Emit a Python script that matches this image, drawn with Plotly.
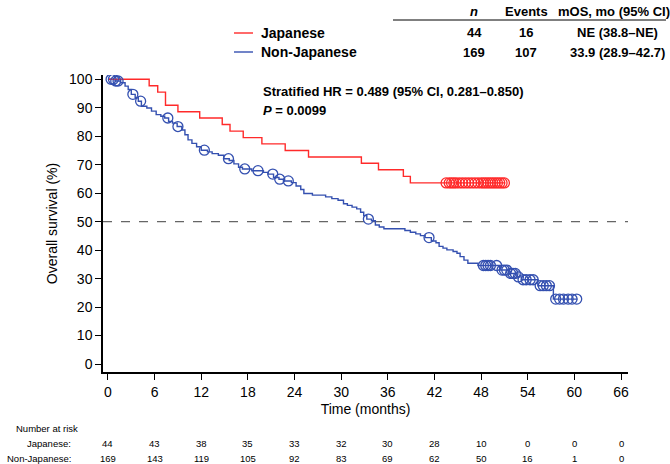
import numpy as np
import plotly.graph_objects as go

# ---------------- data ----------------
# Japanese KM curve: step points (time in months, survival %)
jp_t = [0, 5.3, 6.4, 7.4, 9.0, 11.8, 14.7, 15.7, 17.4, 19.8, 22.8, 25.8, 32.6, 34.8, 38.0, 38.9, 51.1]
jp_s = [100, 97.7, 95.5, 90.9, 88.6, 86.4, 84.1, 81.8, 79.5, 77.3, 75.0, 72.7, 70.5, 68.2, 65.9, 63.6, 63.6]
jp_cens = [43.5, 43.9, 44.2, 44.5, 44.8, 45.2, 45.6, 46.0, 46.4, 46.8, 47.2, 47.6, 48.0, 48.3,
           48.6, 48.9, 49.2, 49.5, 49.8, 50.1, 50.4, 50.7, 51.0]

# Non-Japanese KM curve: step points
nj_t = [0, 0.9, 1.6, 2.2, 2.6, 3.0, 3.5, 3.9, 4.3, 5.0, 5.6, 6.2, 6.8, 7.3, 7.8, 8.3, 8.9, 9.5, 9.9,
        10.3, 10.8, 11.4, 12.0, 12.8, 13.4, 14.2, 14.9, 15.6, 16.2, 16.8, 17.3, 18.5, 20.0, 20.6,
        21.3, 22.0, 22.6, 23.6, 24.2, 24.8, 25.2, 26.3, 28.0, 28.8, 29.6, 30.3, 30.8, 31.4, 32.0,
        32.5, 32.9, 33.3, 33.9, 34.4, 34.9, 35.5, 38.2, 38.9, 39.6, 40.2, 40.8, 41.6, 42.2, 42.6,
        43.1, 43.6, 44.4, 44.9, 45.3, 45.8, 46.3, 47.6, 50.4, 51.6, 52.6, 53.2, 55.3, 57.3, 60.4]
nj_s = [100, 99.4, 98.8, 97.6, 96.4, 94.7, 93.5, 92.3, 90.5, 89.9, 88.8, 87.6, 87.0, 86.4, 85.2,
        84.6, 83.4, 82.2, 80.5, 78.7, 77.5, 76.3, 75.1, 74.5, 73.9, 73.3, 72.1, 71.5, 70.3, 69.1,
        68.5, 67.9, 67.3, 66.7, 65.5, 64.9, 64.3, 63.7, 62.5, 61.3, 59.9, 59.3, 58.7, 58.1, 57.5,
        56.3, 55.7, 55.1, 54.5, 53.3, 52.1, 50.9, 50.3, 48.8, 48.1, 47.5, 46.9, 46.3, 45.7, 45.1,
        44.4, 43.2, 42.6, 41.3, 40.7, 40.1, 39.5, 38.9, 37.7, 36.5, 35.4, 34.6, 33.0, 31.8, 30.6,
        29.6, 27.5, 22.8, 22.8]
nj_cens = [0.4, 0.7, 1.0, 1.3, 3.2, 4.2, 7.7, 9.0, 12.4, 15.5, 17.6, 19.3, 21.2, 22.1, 23.2, 33.5,
           41.3, 48.3, 48.6, 48.9, 49.2, 50.0, 50.7, 51.0, 51.3, 51.8, 52.1, 52.4, 52.8, 53.4, 53.8,
           54.3, 54.7, 55.6, 56.0, 56.4, 56.8, 57.6, 58.1, 58.6, 59.2, 59.7, 60.3]

risk_times = [0, 6, 12, 18, 24, 30, 36, 42, 48, 54, 60, 66]
risk_jp = [44, 43, 38, 35, 33, 32, 30, 28, 10, 0, 0, 0]
risk_nj = [169, 143, 119, 105, 92, 83, 69, 62, 50, 16, 1, 0]

groups = ["Japanese", "Non-Japanese"]
n_vals = [44, 169]
events = [16, 107]
mos = ["NE (38.8–NE)", "33.9 (28.9–42.7)"]

RED = "#ff2a2a"
BLUE = "#3450b0"
FONT = "Arial, Liberation Sans, sans-serif"


def step_val(t_arr, s_arr, t):
    idx = np.searchsorted(np.array(t_arr), t, side="right") - 1
    return np.array(s_arr)[idx]


# ---------------- layout geometry (pixels) ----------------
W, H = 670, 464
L, R, T, B = 103, 42, 75, 92
PW, PH = W - L - R, H - T - B


def px(x):
    return (x - L) / PW


def py(y):
    return (H - B - y) / PH


fig = go.Figure()

fig.add_trace(go.Scatter(x=nj_t, y=nj_s, mode="lines", line=dict(color=BLUE, width=1.4, shape="hv"),
                         showlegend=False, hoverinfo="skip"))
fig.add_trace(go.Scatter(x=jp_t, y=jp_s, mode="lines", line=dict(color=RED, width=1.4, shape="hv"),
                         showlegend=False, hoverinfo="skip"))
fig.add_trace(go.Scatter(x=nj_cens, y=step_val(nj_t, nj_s, nj_cens), mode="markers",
                         marker=dict(symbol="circle-open", size=10, color=BLUE, line=dict(width=1.3)),
                         showlegend=False, hoverinfo="skip"))
fig.add_trace(go.Scatter(x=jp_cens, y=step_val(jp_t, jp_s, jp_cens), mode="markers",
                         marker=dict(symbol="circle-open", size=10, color=RED, line=dict(width=1.3)),
                         showlegend=False, hoverinfo="skip"))

# median reference line
fig.add_shape(type="line", xref="paper", yref="y", x0=0, x1=1, y0=50, y1=50,
              line=dict(color="#666666", width=1.2, dash="dash"), layer="below")

ann = []
# header of legend table
hdr_y = py(11)
ann.append(dict(x=px(474), y=hdr_y, text="<b><i>n</i></b>", showarrow=False, font=dict(size=13)))
ann.append(dict(x=px(526), y=hdr_y, text="<b>Events</b>", showarrow=False, font=dict(size=13)))
ann.append(dict(x=px(614), y=hdr_y, text="<b>mOS, mo (95% CI)</b>", showarrow=False, font=dict(size=13)))
fig.add_shape(type="line", xref="paper", yref="paper", x0=px(393), x1=px(666), y0=py(20), y1=py(20),
              line=dict(color="black", width=1))
row_y = [33, 52]
colors = [RED, BLUE]
for i in range(2):
    yy = py(row_y[i])
    fig.add_shape(type="line", xref="paper", yref="paper", x0=px(234), x1=px(253), y0=yy, y1=yy,
                  line=dict(color=colors[i], width=1.4))
    ann.append(dict(x=px(259), y=yy, xanchor="left", text=f"<b>{groups[i]}</b>", showarrow=False,
                    font=dict(size=14)))
    ann.append(dict(x=px(474), y=yy, text=f"<b>{n_vals[i]}</b>", showarrow=False, font=dict(size=13)))
    ann.append(dict(x=px(526), y=yy, text=f"<b>{events[i]}</b>", showarrow=False, font=dict(size=13)))
    ann.append(dict(x=px(617), y=yy, text=f"<b>{mos[i]}</b>", showarrow=False, font=dict(size=13)))

ann.append(dict(x=px(261), y=py(92), xanchor="left", showarrow=False, font=dict(size=13),
                text="<b>Stratified HR = 0.489 (95% CI, 0.281–0.850)</b>"))
ann.append(dict(x=px(261), y=py(110), xanchor="left", showarrow=False, font=dict(size=13),
                text="<b><i>P</i> = 0.0099</b>"))

# number at risk table
ann.append(dict(x=px(14), y=py(428), xanchor="left", showarrow=False, font=dict(size=9.5),
                text="Number at risk"))
ann.append(dict(x=px(73), y=py(443), xanchor="right", showarrow=False, font=dict(size=9.5),
                text="Japanese:"))
ann.append(dict(x=px(73), y=py(458), xanchor="right", showarrow=False, font=dict(size=9.5),
                text="Non-Japanese:"))
for t, a, b in zip(risk_times, risk_jp, risk_nj):
    ann.append(dict(x=t, xref="x", y=py(443), yref="paper", showarrow=False, font=dict(size=9.5),
                    text=str(a)))
    ann.append(dict(x=t, xref="x", y=py(458), yref="paper", showarrow=False, font=dict(size=9.5),
                    text=str(b)))

for a in ann:
    a.setdefault("xref", "paper")
    a.setdefault("yref", "paper")
    a.setdefault("xanchor", "center")
    a.setdefault("yanchor", "middle")

fig.update_layout(
    width=W, height=H,
    margin=dict(l=L, r=R, t=T, b=B),
    paper_bgcolor="white", plot_bgcolor="white",
    font=dict(family=FONT, color="black", size=14),
    annotations=ann,
    xaxis=dict(range=[-0.64, 66.9], tickmode="array", tickvals=risk_times,
               showline=True, linecolor="black", linewidth=1.5, ticks="outside", ticklen=6,
               tickwidth=1.3, tickcolor="black", showgrid=False, zeroline=False,
               tickfont=dict(size=14), title=dict(text="Time (months)", font=dict(size=14), standoff=6)),
    yaxis=dict(range=[-2.8, 101.5], tickmode="array", tickvals=list(range(0, 101, 10)),
               showline=True, linecolor="black", linewidth=1.5, ticks="outside", ticklen=6,
               tickwidth=1.3, tickcolor="black", showgrid=False, zeroline=False,
               tickfont=dict(size=14), title=dict(text="Overall survival (%)", font=dict(size=14), standoff=8)),
)

fig.write_html("out.html")
